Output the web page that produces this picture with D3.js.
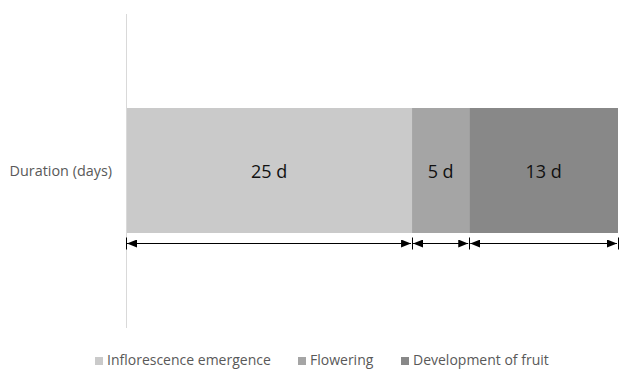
<!DOCTYPE html>
<html>
<head>
<meta charset="utf-8">
<script src="https://cdn.jsdelivr.net/npm/d3@7"></script>
<style>
  html, body { margin: 0; padding: 0; background: #fff; }
  svg { display: block; font-family: "Open Sans", "Noto Sans", sans-serif; }
</style>
</head>
<body>
<svg id="chart" width="619" height="369"></svg>
<script>
// Phases of the cycle and their durations in days
const category = ["Duration (days)"];
const phases = ["Inflorescence emergence", "Flowering", "Development of fruit"];
const days = [25, 5, 13];
const colors = ["#cacaca", "#a5a5a5", "#888888"];

const svg = d3.select("#chart");
const left = 126, right = 618;

const total = d3.sum(days);
const x = d3.scaleLinear().domain([0, total]).range([left, right]);

// stacked segments
const starts = days.map((d, i) => d3.sum(days.slice(0, i)));
const segs = phases.map((p, i) => ({ phase: p, v: days[i], x0: starts[i], x1: starts[i] + days[i], c: colors[i] }));

const barY = 108, barH = 125;

svg.append("g").selectAll("rect").data(segs).join("rect")
  .attr("x", d => x(d.x0))
  .attr("y", barY)
  .attr("width", d => x(d.x1) - x(d.x0))
  .attr("height", barH)
  .attr("fill", d => d.c);

// vertical category axis line
svg.append("line")
  .attr("x1", left + 0.5).attr("x2", left + 0.5)
  .attr("y1", 14).attr("y2", 328)
  .attr("stroke", "#d9d9d9").attr("stroke-width", 1);

// category label
svg.append("text")
  .attr("x", 112).attr("y", barY + barH / 2)
  .attr("text-anchor", "end").attr("dominant-baseline", "central")
  .attr("font-size", 14.4).attr("fill", "#595959")
  .text(category[0]);

// value labels
svg.append("g").selectAll("text").data(segs).join("text")
  .attr("x", d => (x(d.x0) + x(d.x1)) / 2)
  .attr("y", barY + barH / 2)
  .attr("text-anchor", "middle").attr("dominant-baseline", "central")
  .attr("font-size", 18).attr("fill", "#111")
  .text(d => d.v + " d");

// duration arrows under each segment
const defs = svg.append("defs");
defs.append("marker").attr("id", "headEnd")
  .attr("viewBox", "0 0 10 8").attr("refX", 10).attr("refY", 4)
  .attr("markerWidth", 10).attr("markerHeight", 8).attr("markerUnits", "userSpaceOnUse")
  .attr("orient", "auto")
  .append("path").attr("d", "M0,0L10,4L0,8Z").attr("fill", "#000");
defs.append("marker").attr("id", "headStart")
  .attr("viewBox", "0 0 10 8").attr("refX", 0).attr("refY", 4)
  .attr("markerWidth", 10).attr("markerHeight", 8).attr("markerUnits", "userSpaceOnUse")
  .attr("orient", "auto")
  .append("path").attr("d", "M10,0L0,4L10,8Z").attr("fill", "#000");

const arrowY = 243.5;
const ag = svg.append("g");
segs.forEach(d => {
  const a = x(d.x0) + 1, b = x(d.x1) - 1;
  ag.append("line")
    .attr("x1", a).attr("x2", b).attr("y1", arrowY).attr("y2", arrowY)
    .attr("stroke", "#000").attr("stroke-width", 1)
    .attr("marker-start", "url(#headStart)")
    .attr("marker-end", "url(#headEnd)");
});
// boundary ticks
ag.selectAll("line.tick").data([0].concat(segs.map(d => d.x1))).join("line")
  .attr("class", "tick")
  .attr("x1", d => Math.round(x(d)) + 0.5).attr("x2", d => Math.round(x(d)) + 0.5)
  .attr("y1", arrowY - 6).attr("y2", arrowY + 6)
  .attr("stroke", "#000").attr("stroke-width", 1);

// legend
const legendX = [95, 298, 401];
const lg = svg.append("g");
segs.forEach((d, i) => {
  lg.append("rect")
    .attr("x", legendX[i]).attr("y", 357).attr("width", 8).attr("height", 8)
    .attr("fill", d.c);
  lg.append("text")
    .attr("x", legendX[i] + 12).attr("y", 365)
    .attr("font-size", 14).attr("fill", "#595959")
    .text(d.phase);
});
</script>
</body>
</html>
